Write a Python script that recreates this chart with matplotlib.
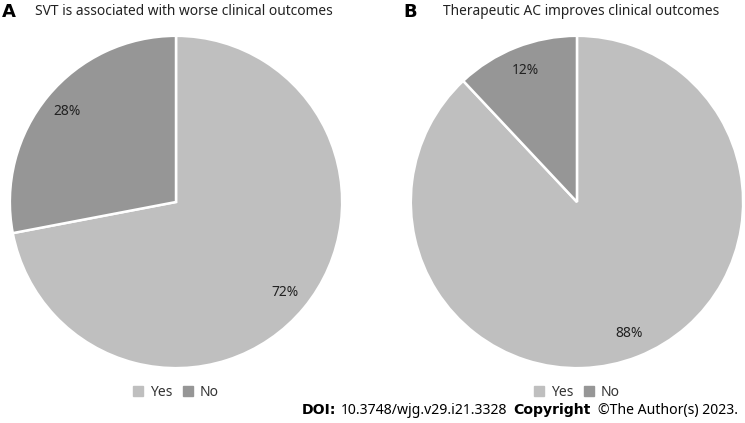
import matplotlib
matplotlib.use("Agg")
import matplotlib.pyplot as plt
from matplotlib.patches import Patch

plt.rcParams['font.family'] = ['Noto Sans', 'DejaVu Sans']

# data
categories = ['Yes', 'No']
svt_values = [72, 28]
ac_values = [88, 12]
titles = ['SVT is associated with worse clinical outcomes',
          'Therapeutic AC improves clinical outcomes']
panel_letters = ['A', 'B']

colors = ['#bfbfbf', '#969696']
bold_font = ['DejaVu Sans']

fig = plt.figure(figsize=(7.45, 4.23), dpi=100)

ax_a = fig.add_axes([0.0121, 0.1277, 0.4483, 0.7896])
ax_b = fig.add_axes([0.5503, 0.1277, 0.4483, 0.7896])

for ax, vals in [(ax_a, svt_values), (ax_b, ac_values)]:
    wedges, texts, autotexts = ax.pie(
        vals, colors=colors, startangle=90, counterclock=False,
        autopct='%d%%', pctdistance=0.85,
        wedgeprops=dict(edgecolor='white', linewidth=1.8),
        textprops=dict(fontsize=10, color='#222222'))
    ax.set_xlim(-1.005, 1.005)
    ax.set_ylim(-1.005, 1.005)
    ax.set_aspect('equal')
    ax.legend(handles=[Patch(color=c, label=l) for c, l in zip(colors, categories)],
              loc='upper center', bbox_to_anchor=(0.5, -0.018), ncol=2,
              frameon=False, fontsize=10, handlelength=0.7, handleheight=0.7,
              columnspacing=0.8, handletextpad=0.5, labelcolor='#333333',
              borderpad=0.2)

# panel titles
fig.text(0.003, 0.972, panel_letters[0], fontsize=13, fontweight='bold',
         family=bold_font, va='center')
fig.text(0.047, 0.972, titles[0], fontsize=9.9, va='center', color='#222222')
fig.text(0.542, 0.972, panel_letters[1], fontsize=13, fontweight='bold',
         family=bold_font, va='center')
fig.text(0.595, 0.972, titles[1], fontsize=9.9, va='center', color='#222222')

# footer
fig.text(0.405, 0.03, 'DOI:', fontsize=10.1, fontweight='bold', family=bold_font, va='center')
fig.text(0.457, 0.03, '10.3748/wjg.v29.i21.3328', fontsize=10.1, va='center')
fig.text(0.689, 0.03, 'Copyright', fontsize=10.1, fontweight='bold', family=bold_font, va='center')
fig.text(0.803, 0.03, '\u00a9The Author(s) 2023.', fontsize=10.1, va='center')

fig.savefig('out.png', dpi=100)
